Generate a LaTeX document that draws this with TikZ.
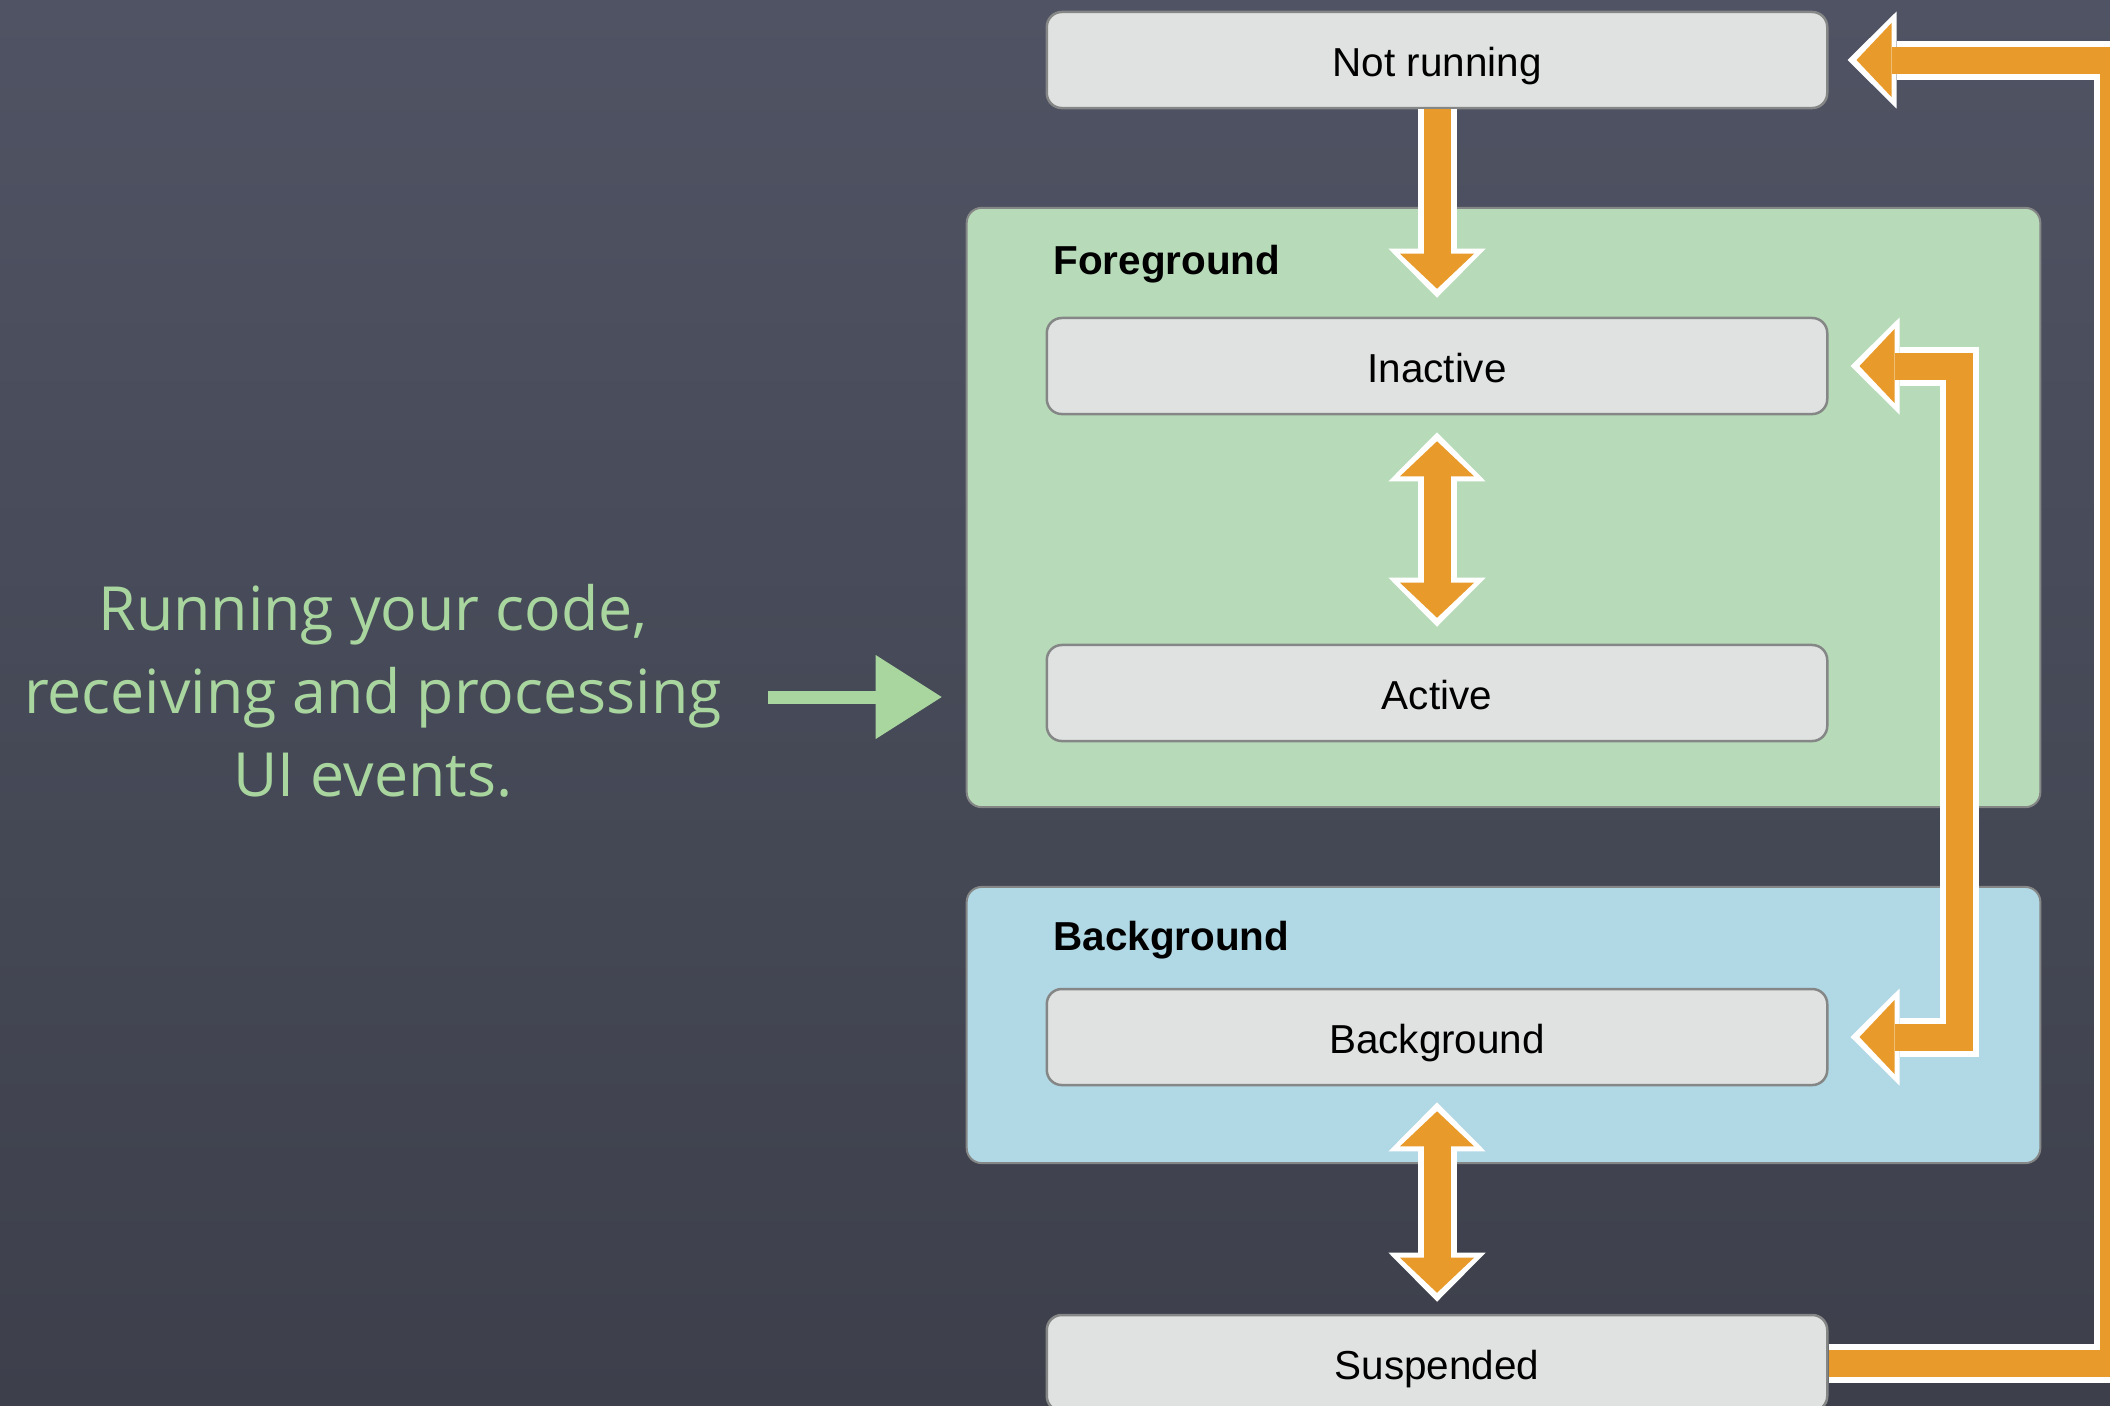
\documentclass[tikz,border=0pt]{standalone}
\usepackage{fontspec}
\setmainfont{Liberation Sans}
\newfontfamily\chalkfont{Open Sans}
\usetikzlibrary{arrows.meta,calc}

\definecolor{boardtop}{HTML}{4F5363}
\definecolor{boardbot}{HTML}{3D404B}
\definecolor{fggreen}{HTML}{B7DBB8}
\definecolor{bgblue}{HTML}{B1D8E5}
\definecolor{boxfill}{HTML}{E0E1E1}
\definecolor{boxline}{HTML}{858787}
\definecolor{flow}{HTML}{E89A2B}
\definecolor{chalk}{HTML}{A8D69E}

\tikzset{
  state/.style={draw=boxline, fill=boxfill, line width=0.025cm, rounded corners=0.15cm,
    minimum width=7.8cm, minimum height=0.96cm, inner sep=0,
    text height=9.3pt, text depth=0pt,
    font=\fontsize{11.5}{14}\selectfont},
  group/.style={draw=boxline, line width=0.02cm, rounded corners=0.15cm,
    minimum width=10.73cm, inner sep=0},
  grouplabel/.style={anchor=base west, inner sep=0, font=\fontsize{11.5}{14}\selectfont\bfseries},
  flowout/.style={draw=white, line width=0.39cm,
    >={Triangle[length=0.49cm,width=0.97cm,line width=0pt]}},
  flowin/.style={draw=flow, line width=0.27cm,
    >={Triangle[length=0.35cm,width=0.74cm,line width=0pt]}},
  note/.style={align=center, text=chalk, inner sep=0,
    font=\chalkfont\fontsize{17.3}{23.6}\selectfont}
}

\begin{document}
\begin{tikzpicture}[x=0.01cm,y=-0.01cm]
  \useasboundingbox (0,0) rectangle (2110,1405);
  \clip (0,0) rectangle (2110,1405);
  \shade[top color=boardtop, bottom color=boardbot] (0,0) rectangle (2110,1405);

  % the two groups
  \node[group, fill=fggreen, minimum height=5.99cm] (fg) at (1503.5,507.5) {};
  \node[group, fill=bgblue, minimum height=2.76cm] (bg) at (1503.5,1025) {};
  \node[grouplabel] (fglabel) at ($(fg.north west)+(87,68)$) {Foreground};
  \node[grouplabel] (bglabel) at ($(bg.north west)+(87,65)$) {Background};

  % states
  \node[state] (nr) at (1437,60) {Not running};
  \node[state] (inact) at (1437,366) {Inactive};
  \node[state] (act) at (1437,693) {Active};
  \node[state] (bgst) at (1437,1037) {Background};
  \node[state] (susp) at (1437,1363) {Suspended};

  \coordinate (rail) at (1959,700);
  \coordinate (farright) at (2113,60);

  % transitions
  \draw[flowout,->] (nr.south) -- ($(inact.north)+(0,-19)$);
  \draw[flowin,->,shorten >=0.09cm] (nr.south) -- ($(inact.north)+(0,-19)$);
  \draw[flowout,<->] ($(inact.south)+(0,17)$) -- ($(act.north)+(0,-17)$);
  \draw[flowin,<->,shorten <=0.09cm,shorten >=0.09cm] ($(inact.south)+(0,17)$) -- ($(act.north)+(0,-17)$);
  \draw[flowout,<->] ($(bgst.south)+(0,16)$) -- ($(susp.north)+(0,-12)$);
  \draw[flowin,<->,shorten <=0.09cm,shorten >=0.09cm] ($(bgst.south)+(0,16)$) -- ($(susp.north)+(0,-12)$);
  \draw[flowout,<->] ($(inact.east)+(22,0)$) -| (rail) |- ($(bgst.east)+(22,0)$);
  \draw[flowin,<->,shorten <=0.09cm,shorten >=0.09cm] ($(inact.east)+(22,0)$) -| (rail) |- ($(bgst.east)+(22,0)$);
  \draw[flowout,->] (susp.east) -| (farright) -- ($(nr.east)+(19,0)$);
  \draw[flowin,->,shorten >=0.09cm] (susp.east) -| (farright) -- ($(nr.east)+(19,0)$);

  % chalk note
  \node[note] (note) at (373,691) {Running your code,\\receiving and processing\\UI events.};
  \coordinate (cue) at (768,697);
  \draw[chalk, line width=0.13cm, shorten >=0.24cm,
    -{Triangle[length=0.66cm,width=0.84cm,line width=0pt]}] (cue) -- (cue -| fg.west);
\end{tikzpicture}
\end{document}
